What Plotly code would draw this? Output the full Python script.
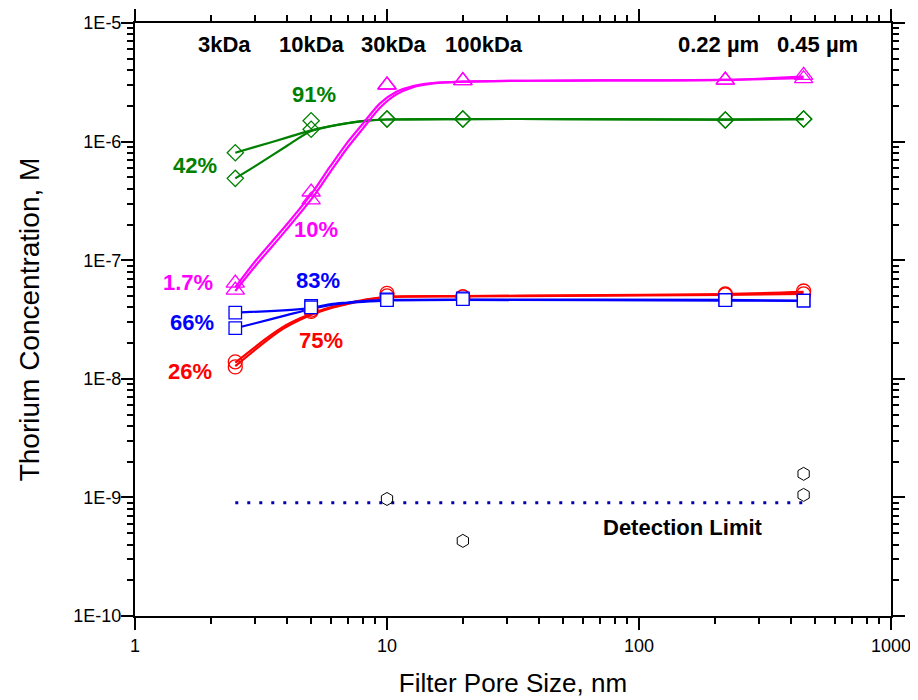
import math
import plotly.graph_objects as go

# ---------------- data ----------------
pore_sizes = [2.5, 5, 10, 20, 220, 450]          # nm

green_a = [8.06e-7, 1.50e-6, 1.55e-6, 1.55e-6, 1.52e-6, 1.55e-6]
green_b = [4.90e-7, 1.27e-6, 1.55e-6, 1.55e-6, 1.52e-6, 1.55e-6]
magenta_a = [6.4e-8, 3.76e-7, 3.0e-6, 3.27e-6, 3.30e-6, 3.62e-6]
magenta_b = [5.6e-8, 3.22e-7, 3.0e-6, 3.27e-6, 3.30e-6, 3.39e-6]
blue_a = [3.61e-8, 4.11e-8, 4.68e-8, 4.77e-8, 4.62e-8, 4.56e-8]
blue_b = [2.67e-8, 4.00e-8, 4.60e-8, 4.70e-8, 4.60e-8, 4.56e-8]
red_a = [1.39e-8, 3.80e-8, 5.26e-8, 4.90e-8, 5.19e-8, 5.50e-8]
red_b = [1.26e-8, 3.70e-8, 5.00e-8, 4.90e-8, 5.10e-8, 5.20e-8]

# fitted curves
green_fit_x = [2.5, 3, 4, 5, 6, 7, 8, 10, 20, 50, 220, 450]
green_fit_a = [8.06e-7, 9.02e-7, 1.08e-6, 1.245e-6, 1.353e-6, 1.435e-6, 1.49e-6, 1.536e-6, 1.55e-6, 1.55e-6, 1.53e-6, 1.55e-6]
green_fit_b = [4.90e-7, 6.21e-7, 9.18e-7, 1.228e-6, 1.35e-6, 1.43e-6, 1.49e-6, 1.536e-6, 1.55e-6, 1.55e-6, 1.53e-6, 1.55e-6]

magenta_fit_x = [2.5, 3, 4, 5.03, 5.94, 6.92, 8.05, 9.38, 10.9, 12.7, 14.8, 20, 36.9, 70, 217, 450]
magenta_fit_a = [5.9e-8, 9.8e-8, 2.0e-7, 3.66e-7, 6.14e-7, 9.67e-7, 1.43e-6, 2.10e-6, 2.63e-6, 2.94e-6, 3.10e-6, 3.20e-6, 3.26e-6, 3.28e-6, 3.31e-6, 3.53e-6]
magenta_fit_b = [5.5e-8, 8.9e-8, 1.82e-7, 3.30e-7, 5.50e-7, 8.70e-7, 1.30e-6, 1.93e-6, 2.50e-6, 2.88e-6, 3.07e-6, 3.20e-6, 3.26e-6, 3.28e-6, 3.31e-6, 3.42e-6]

blue_fit_x_a = [2.5, 5, 6, 7, 8, 10, 20, 220, 450]
blue_fit_a = [3.61e-8, 3.95e-8, 4.27e-8, 4.40e-8, 4.51e-8, 4.62e-8, 4.66e-8, 4.62e-8, 4.57e-8]
blue_fit_x_b = [2.5, 3, 4, 5, 6, 7, 8, 10, 20, 220, 450]
blue_fit_b = [2.67e-8, 2.94e-8, 3.44e-8, 3.88e-8, 4.19e-8, 4.36e-8, 4.46e-8, 4.57e-8, 4.62e-8, 4.57e-8, 4.53e-8]

red_fit_x = [2.5, 3.33, 3.88, 4.52, 5.26, 6.12, 7.13, 8.3, 10, 20, 50, 220, 450]
red_fit_a = [1.37e-8, 2.2e-8, 2.75e-8, 3.24e-8, 3.68e-8, 4.06e-8, 4.38e-8, 4.68e-8, 4.92e-8, 4.99e-8, 5.05e-8, 5.19e-8, 5.40e-8]
red_fit_b = [1.28e-8, 2.1e-8, 2.65e-8, 3.15e-8, 3.60e-8, 4.00e-8, 4.33e-8, 4.62e-8, 4.88e-8, 4.95e-8, 5.00e-8, 5.10e-8, 5.20e-8]

detection_x = [2.5, 450]
detection_y = [9e-10, 9e-10]

blank_x = [10, 20, 450, 450]
blank_y = [9.7e-10, 4.3e-10, 1.58e-9, 1.05e-9]

# text labels
top_labels = ["3kDa", "10kDa", "30kDa", "100kDa", "0.22 \u00b5m", "0.45 \u00b5m"]
top_label_x = [2.26, 5.04, 10.7, 24.3, 206, 513]
top_label_y = 6.65e-6

pct_labels = ["91%", "42%", "10%", "1.7%", "83%", "66%", "75%", "26%"]
pct_x = [5.13, 1.738, 5.25, 1.623, 5.30, 1.676, 5.45, 1.66]
pct_y = [2.48e-6, 6.26e-7, 1.83e-7, 6.49e-8, 6.74e-8, 2.98e-8, 2.12e-8, 1.16e-8]
pct_colors = ["#008000", "#008000", "#FF00FF", "#FF00FF", "#0000FF", "#0000FF", "#FF0000", "#FF0000"]

det_label = "Detection Limit"
det_label_x = 149.5
det_label_y = 5.57e-10

y_tick_vals = [1e-10, 1e-9, 1e-8, 1e-7, 1e-6, 1e-5]
y_tick_text = ["1E-10", "1E-9", "1E-8", "1E-7", "1E-6", "1E-5"]
x_tick_vals = [1, 10, 100, 1000]
x_tick_text = ["1", "10", "100", "1000"]

GREEN, MAGENTA, BLUE, RED = "#008000", "#FF00FF", "#0000FF", "#FF0000"
FONT = "Liberation Sans, Arial, sans-serif"

fig = go.Figure()

def add_line(x, y, color):
    fig.add_trace(go.Scatter(x=x, y=y, mode="lines", showlegend=False, hoverinfo="skip",
                             line=dict(color=color, width=2.2, shape="spline", smoothing=0.8)))

def add_markers(y, color, symbol, size, fill=None):
    fig.add_trace(go.Scatter(x=pore_sizes, y=y, mode="markers", showlegend=False,
                             marker=dict(symbol=symbol, size=size,
                                         color=fill if fill else color,
                                         line=dict(color=color, width=1.3))))

# curves
add_line(green_fit_x, green_fit_a, GREEN)
add_line(green_fit_x, green_fit_b, GREEN)
add_line(magenta_fit_x, magenta_fit_a, MAGENTA)
add_line(magenta_fit_x, magenta_fit_b, MAGENTA)
add_line(red_fit_x, red_fit_a, RED)
add_line(red_fit_x, red_fit_b, RED)
add_line(blue_fit_x_a, blue_fit_a, BLUE)
add_line(blue_fit_x_b, blue_fit_b, BLUE)

# detection limit
fig.add_trace(go.Scatter(x=detection_x, y=detection_y, mode="lines", showlegend=False,
                         line=dict(color="#0000B0", width=3, dash="3px,9px")))

# markers
add_markers(green_a, GREEN, "diamond-open", 12.5)
add_markers(green_b, GREEN, "diamond-open", 12.5)
add_markers(magenta_a, MAGENTA, "triangle-up-open", 16)
add_markers(magenta_b, MAGENTA, "triangle-up-open", 16)
add_markers(red_a, RED, "circle-open", 14)
add_markers(red_b, RED, "circle-open", 14)
add_markers(blue_a, BLUE, "square", 12.5, fill="white")
add_markers(blue_b, BLUE, "square", 12.5, fill="white")

fig.add_trace(go.Scatter(x=blank_x, y=blank_y, mode="markers", showlegend=False,
                         marker=dict(symbol="hexagon-open", size=13,
                                     color="black", line=dict(color="black", width=1))))

# annotations
for t, x in zip(top_labels, top_label_x):
    fig.add_annotation(x=math.log10(x), y=math.log10(top_label_y), text=t, showarrow=False,
                       font=dict(family=FONT, size=22, color="black", weight="bold"))
for t, x, y, c in zip(pct_labels, pct_x, pct_y, pct_colors):
    fig.add_annotation(x=math.log10(x), y=math.log10(y), text=t, showarrow=False,
                       font=dict(family=FONT, size=22, color=c, weight="bold"))
fig.add_annotation(x=math.log10(det_label_x), y=math.log10(det_label_y), text=det_label,
                   showarrow=False, font=dict(family=FONT, size=22, color="black", weight="bold"))

minor_x = [k * 10 ** n for n in range(0, 3) for k in range(2, 10)]
minor_y = [k * 10 ** n for n in range(-10, -5) for k in range(2, 10)]

axis_common = dict(showline=True, linecolor="black", linewidth=2, mirror="ticks",
                   ticks="outside", ticklen=12, tickwidth=1.5, tickcolor="black",
                   showgrid=False, zeroline=False, automargin=False,
                   tickfont=dict(family=FONT, size=18, color="black"))

fig.update_xaxes(type="log", range=[0, 3], tickvals=x_tick_vals, ticktext=x_tick_text,
                 title=dict(text="Filter Pore Size, nm", standoff=19,
                            font=dict(family=FONT, size=26, color="black")),
                 minor=dict(tickvals=minor_x, ticks="outside", ticklen=6, tickwidth=1.5,
                            tickcolor="black", showgrid=False),
                 **axis_common)
fig.update_yaxes(type="log", range=[-10, -5], tickvals=y_tick_vals, ticktext=y_tick_text,
                 ticklabelstandoff=-4,
                 title=dict(text="Thorium Concentration, M", standoff=26,
                            font=dict(family=FONT, size=28, color="black")),
                 minor=dict(tickvals=minor_y, ticks="outside", ticklen=6, tickwidth=1.5,
                            tickcolor="black", showgrid=False),
                 **axis_common)

# the page body adds an 8px margin, so the figure is 8px smaller on each axis
fig.update_layout(width=910, height=692, margin=dict(l=127, r=27, t=15, b=84),
                  plot_bgcolor="white", paper_bgcolor="white",
                  font=dict(family=FONT), showlegend=False)

fig.write_html("out.html")
